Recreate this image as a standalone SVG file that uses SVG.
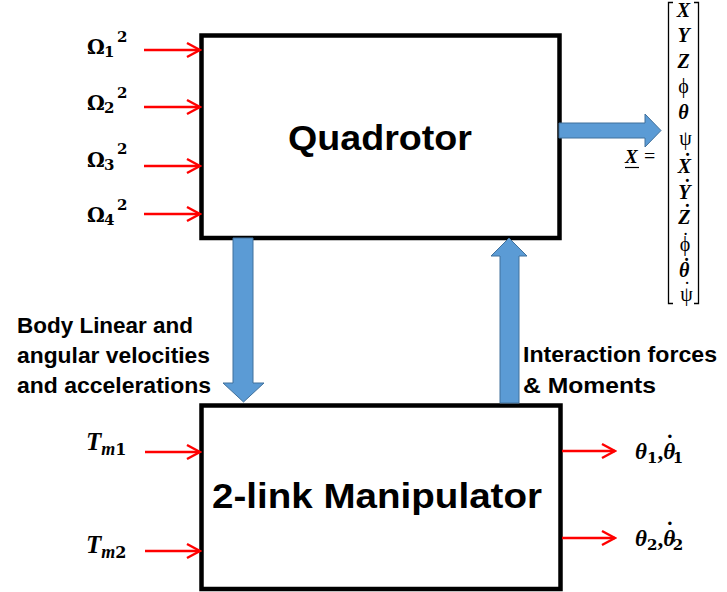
<svg xmlns="http://www.w3.org/2000/svg" width="727" height="592" viewBox="0 0 727 592">
<style>
.box{fill:#fff;stroke:#000;stroke-width:4.5}
.title{font-family:"Liberation Sans",Arial,sans-serif;font-weight:bold;font-size:35px;fill:#000}
.lbl{font-family:"Liberation Sans",Arial,sans-serif;font-weight:bold;font-size:22px;fill:#000}
.math{font-family:"DejaVu Serif","Liberation Serif",serif;font-weight:bold;fill:#000}
.mi{font-family:"Liberation Serif","DejaVu Serif",serif;font-weight:bold;font-style:italic;fill:#000}
.up{font-family:"Liberation Serif","DejaVu Serif",serif;font-weight:normal;font-style:normal;fill:#000}
.d{font-weight:bold;font-style:normal}
.red{stroke:#f00;stroke-width:2.5;fill:none}
.blue{fill:#5b9bd5;stroke:#41719c;stroke-width:1}
</style>
<defs>
<marker id="ra" markerWidth="16" markerHeight="18" refX="14" refY="9" orient="auto" markerUnits="userSpaceOnUse">
<path d="M1,2 L14,9 L1,16" fill="none" stroke="#f00" stroke-width="2.5"/>
</marker>
</defs>

<g id="quadrotor">
<rect class="box" x="201.5" y="35.5" width="358" height="202.5"/>
<text class="title" x="380" y="150" text-anchor="middle" textLength="184" lengthAdjust="spacingAndGlyphs">Quadrotor</text>
</g>

<g id="manipulator">
<rect class="box" x="201.5" y="405.5" width="359" height="183.5"/>
<text class="title" x="377" y="508" text-anchor="middle" textLength="330" lengthAdjust="spacingAndGlyphs">2-link Manipulator</text>
</g>

<g id="inputs">
<text class="math" x="87" y="54" font-size="20">Ω</text><text class="math" x="104" y="57" font-size="15">1</text><text class="math" x="117" y="42" font-size="15">2</text>
<text class="math" x="87" y="110" font-size="20">Ω</text><text class="math" x="104" y="113" font-size="15">2</text><text class="math" x="117" y="98" font-size="15">2</text>
<text class="math" x="87" y="167" font-size="20">Ω</text><text class="math" x="104" y="170" font-size="15">3</text><text class="math" x="117" y="154" font-size="15">2</text>
<text class="math" x="87" y="222" font-size="20">Ω</text><text class="math" x="104" y="225" font-size="15">4</text><text class="math" x="117" y="210" font-size="15">2</text>
<text class="mi" x="86" y="450" font-size="25">T<tspan font-size="18" dy="5">m</tspan><tspan class="math" font-size="16" font-style="normal">1</tspan></text>
<text class="mi" x="86" y="553" font-size="25">T<tspan font-size="18" dy="5">m</tspan><tspan class="math" font-size="16" font-style="normal">2</tspan></text>
</g>

<g id="outputs">
<text class="mi" x="635" y="459" font-size="23">θ<tspan class="math" font-size="15" font-style="normal" dy="4">1</tspan><tspan font-style="normal" dy="-4">,</tspan>θ<tspan class="d" dx="-9" dy="-8">˙</tspan><tspan class="math" font-size="15" font-style="normal" dx="-1" dy="12">1</tspan></text>
<text class="mi" x="635" y="546" font-size="23">θ<tspan class="math" font-size="15" font-style="normal" dy="4">2</tspan><tspan font-style="normal" dy="-4">,</tspan>θ<tspan class="d" dx="-9" dy="-8">˙</tspan><tspan class="math" font-size="15" font-style="normal" dx="-1" dy="12">2</tspan></text>
</g>

<g id="state-vector">
<text class="mi" x="625" y="163" font-size="19">X</text>
<line x1="625" y1="167.5" x2="639" y2="167.5" stroke="#000" stroke-width="1.2"/>
<text class="up" x="644" y="163" font-size="20">=</text>
<path d="M673,2.5 L668.5,2.5 L668.5,303.5 L673,303.5" fill="none" stroke="#000" stroke-width="1.3"/>
<path d="M694,2.5 L698.5,2.5 L698.5,303.5 L694,303.5" fill="none" stroke="#000" stroke-width="1.3"/>
<g text-anchor="middle" font-size="20">
<text class="mi" x="683.5" y="17">X</text>
<text class="mi" x="683.5" y="42">Y</text>
<text class="mi" x="683.5" y="68">Z</text>
<text class="up" x="683.5" y="93">ϕ</text>
<text class="mi" x="683.5" y="119">θ</text>
<text class="up" x="685.5" y="145">ψ</text>
<text class="mi" x="684.5" y="173">X<tspan class="d" dx="-7" dy="-5">˙</tspan></text>
<text class="mi" x="684.5" y="199">Y<tspan class="d" dx="-6.5" dy="-5">˙</tspan></text>
<text class="mi" x="684.5" y="224">Z<tspan class="d" dx="-6.5" dy="-5">˙</tspan></text>
<text class="up" x="685" y="251">ϕ<tspan dx="-8" dy="-4">˙</tspan></text>
<text class="mi" x="684.5" y="277">θ<tspan class="d" dx="-6" dy="-4">˙</tspan></text>
<text class="up" x="686.5" y="301">ψ<tspan dx="-9" dy="-5">˙</tspan></text>
</g>
</g>

<g id="edge-labels">
<text class="lbl" x="17" y="333" textLength="176" lengthAdjust="spacingAndGlyphs">Body Linear and</text>
<text class="lbl" x="17" y="363" textLength="193" lengthAdjust="spacingAndGlyphs">angular velocities</text>
<text class="lbl" x="17" y="393" textLength="194" lengthAdjust="spacingAndGlyphs">and accelerations</text>
<text class="lbl" x="523" y="362" textLength="194" lengthAdjust="spacingAndGlyphs">Interaction forces</text>
<text class="lbl" x="523" y="393" textLength="133" lengthAdjust="spacingAndGlyphs">&amp; Moments</text>
</g>

<g id="connectors">
<line class="red" x1="144" y1="50" x2="200" y2="50" marker-end="url(#ra)"/>
<line class="red" x1="144" y1="107" x2="200" y2="107" marker-end="url(#ra)"/>
<line class="red" x1="144" y1="166" x2="200" y2="166" marker-end="url(#ra)"/>
<line class="red" x1="144" y1="214" x2="200" y2="214" marker-end="url(#ra)"/>
<line class="red" x1="145" y1="452" x2="200" y2="452" marker-end="url(#ra)"/>
<line class="red" x1="145" y1="551" x2="200" y2="551" marker-end="url(#ra)"/>
<line class="red" x1="562" y1="451" x2="615" y2="451" marker-end="url(#ra)"/>
<line class="red" x1="562" y1="538" x2="615" y2="538" marker-end="url(#ra)"/>
<path class="blue" d="M233,238 L253,238 L253,383 L264,383 L243.5,402 L223,383 L233,383 Z"/>
<path class="blue" d="M500,403 L519,403 L519,256 L527,256 L509,238 L491,256 L500,256 Z"/>
<path class="blue" d="M559,123 L645,123 L645,114 L661,130.5 L645,147 L645,138 L559,138 Z"/>
</g>
</svg>
